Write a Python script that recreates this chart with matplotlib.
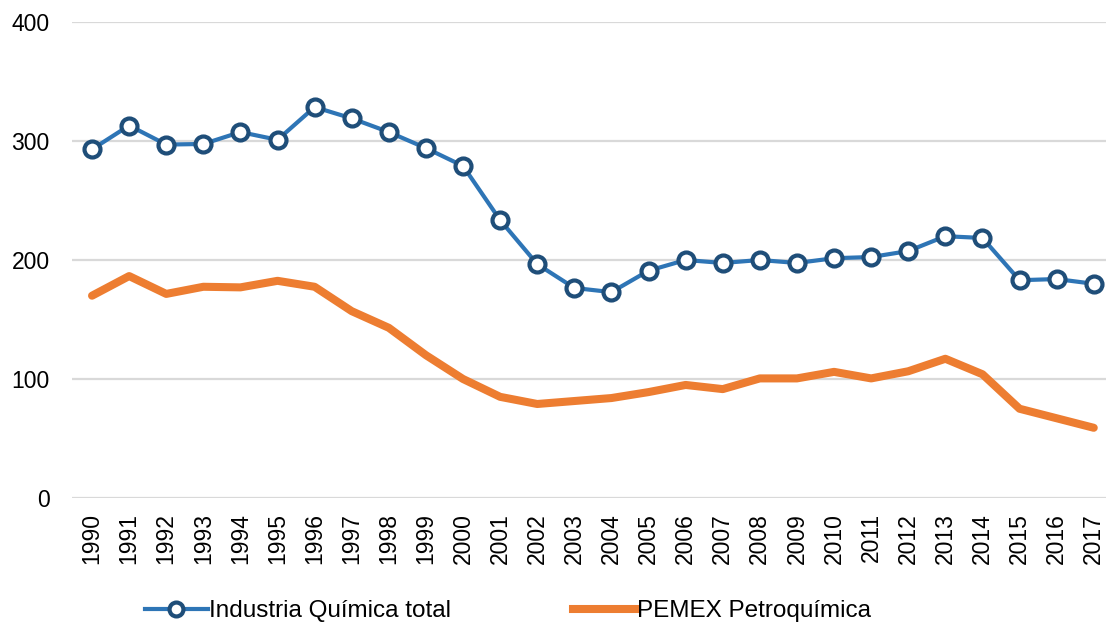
import matplotlib
matplotlib.use("Agg")
import matplotlib.pyplot as plt
from matplotlib.lines import Line2D

years = list(range(1990, 2018))
industria = [293, 313, 297, 297.5, 307.5, 301, 328.5, 319, 307.5, 294, 279, 233.5, 196.5,
             176.5, 173, 191, 200, 197.5, 200, 197.5, 201.5, 202.5, 207.5, 220, 218.5, 183, 184, 180]
pemex = [170, 186.5, 171.5, 177.5, 177, 182.5, 177.5, 157, 143, 120, 100, 85, 79,
         81.5, 84, 89, 95, 91.5, 100.5, 100.5, 106, 100.5, 106.5, 117, 104, 75, 67, 59]
series_names = ["Industria Química total", "PEMEX Petroquímica"]
yticks = [0, 100, 200, 300, 400]

plt.rcParams['font.family'] = ['Liberation Sans', 'DejaVu Sans']

fig = plt.figure(figsize=(11.06, 6.26), dpi=100)
ax = fig.add_axes([72/1106, 128/626, 1 - 72/1106, 476/626])

blue_line = "#2e75b6"
blue_edge = "#1f4e79"
orange = "#ed7d31"

ax.plot(years, pemex, color=orange, lw=5.8, solid_joinstyle='round', solid_capstyle='round', zorder=3)
ax.plot(years, industria, color=blue_line, lw=3.0, marker='o', ms=11.5, mfc='white',
        mec=blue_edge, mew=3.0, zorder=4)

ax.set_xlim(1989.46, 2017.33)
ax.set_ylim(0, 400)
ax.set_yticks(yticks)
ax.set_xticks(years)
ax.set_xticklabels([str(y) for y in years], rotation=90, fontsize=16.5)
ax.tick_params(axis='y', labelsize=16.5, length=0, pad=16)
ax.tick_params(axis='x', length=0, pad=11)
ax.grid(axis='y', color='#d9d9d9', lw=1.6)
ax.set_axisbelow(True)
for s in ax.spines.values():
    s.set_visible(False)

h1 = Line2D([], [], color=blue_line, lw=3.0, marker='o', ms=10, mfc='white', mec=blue_edge, mew=3.0)
h2 = Line2D([], [], color=orange, lw=5.8)
fig.legend([h1, h2], series_names, loc='center left', bbox_to_anchor=(123/1106, 15/626), ncol=2,
           frameon=False, fontsize=17.5, handlelength=2.6, handletextpad=0.05, columnspacing=5.0)

fig.savefig("out.png", dpi=100, facecolor='white')
